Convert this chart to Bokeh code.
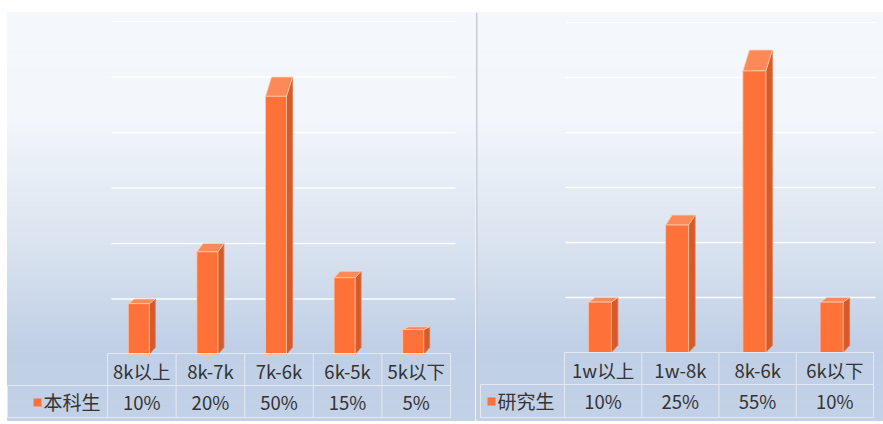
import numpy as np
from bokeh.plotting import figure
from bokeh.layouts import row
from bokeh.models import Range1d
from bokeh.embed import file_html
from bokeh.resources import INLINE
from bokeh.core.properties import value

# ---------------- data ----------------
ug_series = "本科生"
ug_categories = ["8k以上", "8k-7k", "7k-6k", "6k-5k", "5k以下"]
ug_values = [10, 20, 50, 15, 5]
ug_labels = ["10%", "20%", "50%", "15%", "5%"]

pg_series = "研究生"
pg_categories = ["1w以上", "1w-8k", "8k-6k", "6k以下"]
pg_values = [10, 25, 55, 10]
pg_labels = ["10%", "25%", "55%", "10%"]

grid_values = [10, 20, 30, 40, 50, 60]

FONT = value("Noto Sans CJK SC")
TXT = "#333333"
FIG_TOP, FIG_BOTTOM = 0, 424  # reference pixel rows covered by the figures


def hex2rgb(h):
    h = h.lstrip("#")
    return np.array([int(h[i:i + 2], 16) for i in (0, 2, 4)], dtype=float)


def rgb2hex(c):
    return "#%02x%02x%02x" % tuple(int(round(v)) for v in c)


STOPS = [(12, "#f4f7fb"), (120, "#f3f6fb"), (250, "#d9e2ef"), (350, "#bfcfe6"), (420, "#c3d1e6")]


def bg_color(py):
    for (y0, c0), (y1, c1) in zip(STOPS[:-1], STOPS[1:]):
        if y0 <= py <= y1:
            t = (py - y0) / (y1 - y0)
            return rgb2hex(hex2rgb(c0) * (1 - t) + hex2rgb(c1) * t)
    return STOPS[-1][1]


def make_panel(series, cats, vals, labels, g):
    n = len(cats)
    cw = (g["col_right"] - g["col_left"]) / n
    ppp = g["ppp"]

    def X(px):
        return (px - g["col_left"]) / cw - 0.5

    def Y(py):
        return (g["base"] - py) / ppp

    p = figure(width=g["fig_right"] - g["fig_left"], height=FIG_BOTTOM - FIG_TOP,
               x_range=Range1d(X(g["fig_left"]), X(g["fig_right"])),
               y_range=Range1d(Y(FIG_BOTTOM), Y(FIG_TOP)),
               output_backend="svg", toolbar_location=None,
               x_axis_location=None, y_axis_location=None,
               min_border=0, outline_line_color=None,
               background_fill_color="white", border_fill_color="white")
    p.grid.visible = False

    # background gradient bands
    edges = np.linspace(12, 420, 83)
    tops = [Y(a) for a in edges[:-1]]
    bots = [Y(b) for b in edges[1:]]
    cols = [bg_color((a + b) / 2) for a, b in zip(edges[:-1], edges[1:])]
    p.quad(left=X(g["area_left"]), right=X(g["area_right"]), top=tops, bottom=bots,
           fill_color=cols, line_color=cols, line_width=1)

    # gridlines
    p.segment(x0=X(g["grid_left"]), x1=X(g["grid_right"]), y0=grid_values, y1=grid_values,
              line_color="white", line_width=1.3, line_alpha=0.95)

    # 3D bars
    fw = g["bar_w"] / cw
    dx = g["depth"] / cw
    xs_front, ys_front, xs_top, ys_top, xs_side, ys_side = [], [], [], [], [], []
    for i, v in enumerate(vals):
        x0 = i - (fw + dx) / 2
        x1 = x0 + fw
        ft = v - (1.0 / ppp + 0.066 * v)
        dyb = 1.3
        xs_front.append([x0, x1, x1, x0]); ys_front.append([0, 0, ft, ft])
        xs_top.append([x0, x1, x1 + dx, x0 + dx]); ys_top.append([ft, ft, v, v])
        xs_side.append([x1, x1, x1 + dx, x1 + dx]); ys_side.append([0, ft, v, dyb])
    p.patches(xs_side, ys_side, fill_color="#d55c2a", line_color="#e07a4c", line_width=0.8)
    p.patches(xs_top, ys_top, fill_color="#fb8a58", line_color="#ffd2b8", line_width=0.8)
    p.patches(xs_front, ys_front, fill_color="#fe7138", line_color="#ffc8a8", line_width=0.8)

    # data table
    line_c = "#e3e9f1"
    y_top, y_mid, y_bot = Y(g["row0"]), Y(g["row1"]), Y(g["row2"])
    xl, xr = X(g["col_left"]), X(g["col_right"])
    xleg = X(g["leg_left"])
    p.segment(x0=[xl, xleg, xleg], x1=[xr, xr, xr], y0=[y_top, y_mid, y_bot],
              y1=[y_top, y_mid, y_bot], line_color=line_c, line_width=1)
    vx = [i - 0.5 for i in range(n + 1)]
    p.segment(x0=vx, x1=vx, y0=[y_top] * (n + 1), y1=[y_bot] * (n + 1),
              line_color=line_c, line_width=1)
    p.segment(x0=[xleg], x1=[xleg], y0=[y_mid], y1=[y_bot], line_color=line_c, line_width=1)

    idx = list(range(n))
    p.text(x=idx, y=[Y(g["hdr_y"])] * n, text=cats, text_font=FONT, text_font_size="18.5px",
           text_color=TXT, text_align="center", text_baseline="middle")
    p.text(x=idx, y=[Y(g["val_y"])] * n, text=labels, text_font=FONT, text_font_size="18.5px",
           text_color=TXT, text_align="center", text_baseline="middle")
    # legend key
    p.rect(x=[X(g["key_x"])], y=[Y(g["val_y"] + 1)], width=8, height=8,
           width_units="screen", height_units="screen", fill_color="#fe7138", line_color=None)
    p.text(x=[X(g["key_x"] + 6)], y=[Y(g["val_y"])], text=[series], text_font=FONT,
           text_font_size="19px", text_color=TXT, text_align="left", text_baseline="middle")

    if g.get("sep") is not None:
        p.segment(x0=[X(g["sep"])], x1=[X(g["sep"])], y0=[Y(12)], y1=[Y(420)],
                  line_color="#c9ced6", line_width=2)
    return p


left_geom = dict(fig_left=0, fig_right=475, area_left=7, area_right=474.5,
                 col_left=107, col_right=450, base=354, ppp=5.55,
                 grid_left=111, grid_right=455, bar_w=21, depth=6,
                 row0=353, row1=385, row2=417, leg_left=7,
                 hdr_y=370, val_y=401, key_x=37, sep=None)
right_geom = dict(fig_left=475, fig_right=883, area_left=477, area_right=890,
                  col_left=564, col_right=873, base=352, ppp=5.5,
                  grid_left=565, grid_right=875, bar_w=23, depth=6.5,
                  row0=352, row1=384, row2=417, leg_left=480,
                  hdr_y=369, val_y=400, key_x=491, sep=476)

p1 = make_panel(ug_series, ug_categories, ug_values, ug_labels, left_geom)
p2 = make_panel(pg_series, pg_categories, pg_values, pg_labels, right_geom)
layout = row(p1, p2, spacing=0)

open("out.html", "w").write(file_html(layout, INLINE))
